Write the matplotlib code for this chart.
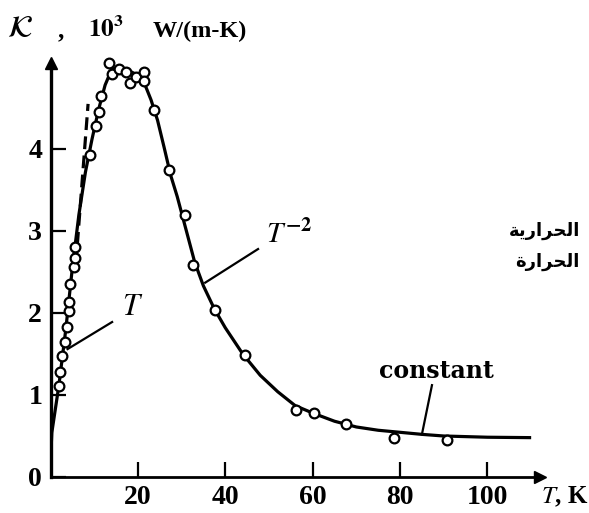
import numpy as np
import matplotlib
matplotlib.use("Agg")
import matplotlib.pyplot as plt

plt.rcParams["mathtext.fontset"] = "stix"
plt.rcParams["font.family"] = ["Liberation Serif", "DejaVu Serif"]

# -------------------------------
# data
# -------------------------------
# measured points (T in K, conductivity in 10^3 W/(m-K))
pts_T = [1.9, 2.2, 2.6, 3.3, 3.7, 4.2, 4.2, 4.5, 5.4, 5.6, 5.6, 9.0, 10.3, 11.0, 11.6,
         13.5, 14.1, 15.6, 17.3, 18.2, 19.6, 21.3, 21.4, 23.8, 27.1, 30.7, 32.7, 37.7,
         44.4, 56.2, 60.4, 67.7, 78.5, 90.8]
pts_K = [1.11, 1.28, 1.47, 1.65, 1.83, 2.03, 2.13, 2.35, 2.56, 2.67, 2.81, 3.93, 4.28, 4.45, 4.65,
         5.05, 4.92, 4.98, 4.94, 4.81, 4.88, 4.94, 4.83, 4.48, 3.74, 3.20, 2.59, 2.04,
         1.49, 0.82, 0.78, 0.65, 0.48, 0.45]

# smooth curve drawn through the points
curve_T = [0, 0.1, 0.3, 1.9, 3.5, 5.0, 6.5, 8.0, 9.5, 11.0, 12.5, 14.0, 15.5, 17.0, 18.5,
           20.0, 21.5, 23.0, 24.5, 26.0, 27.5, 29.0, 31.0, 33.0, 35.0, 37.5, 40.0, 44.0,
           48.0, 52.0, 56.0, 60.0, 65.0, 70.0, 75.0, 80.0, 85.0, 90.0, 100.0, 110.0]
curve_K = [0, 0.3, 0.54, 1.11, 1.8, 2.55, 3.2, 3.72, 4.12, 4.48, 4.78, 4.97, 5.0, 4.97, 4.94,
           4.9, 4.8, 4.6, 4.35, 4.02, 3.68, 3.42, 3.02, 2.62, 2.33, 2.05, 1.82, 1.5,
           1.24, 1.04, 0.87, 0.78, 0.68, 0.61, 0.57, 0.545, 0.52, 0.5, 0.485, 0.48]

# dashed linear (~T) segment
lin_T = [5.8, 8.6]
lin_K = [2.6, 4.55]

x_ticks = [20, 40, 60, 80, 100]
y_ticks = [0, 1, 2, 3, 4]

# leader lines (from curve to label)
lead_T = ([3.9, 14.1], [1.56, 1.89])
lead_T2 = ([35.4, 47.5], [2.37, 2.78])
lead_const = ([85.0, 87.3], [0.52, 1.12])

arabic_lines = ["الحرارية", "الحرارة"]


# matplotlib has no Arabic shaping: pick presentation forms and reverse
FORMS = {
    "ا": ("\uFE8D", "\uFE8E", None, None),
    "ل": ("\uFEDD", "\uFEDE", "\uFEDF", "\uFEE0"),
    "ح": ("\uFEA1", "\uFEA2", "\uFEA3", "\uFEA4"),
    "ر": ("\uFEAD", "\uFEAE", None, None),
    "ي": ("\uFEF1", "\uFEF2", "\uFEF3", "\uFEF4"),
    "ة": ("\uFE93", "\uFE94", None, None),
}


def shape(word):
    out = []
    for i, ch in enumerate(word):
        iso, fin, ini, med = FORMS[ch]
        prev = i > 0 and FORMS[word[i - 1]][2] is not None
        nxt = i < len(word) - 1 and ini is not None
        if prev and nxt:
            out.append(med)
        elif prev:
            out.append(fin)
        elif nxt:
            out.append(ini)
        else:
            out.append(iso)
    return "".join(reversed(out))


fig = plt.figure(figsize=(5.89, 5.13), dpi=100)
ax = fig.add_axes([50.5 / 589, 36 / 513, 489.4 / 589, 414.1 / 513])

ax.plot(curve_T, curve_K, color="k", lw=2.3, solid_capstyle="butt", zorder=2)
ax.plot(lin_T, lin_K, color="k", lw=2.3, dashes=(4, 2), zorder=2)
ax.plot(pts_T, pts_K, "o", ms=7, mfc="white", mec="k", mew=1.6, zorder=3, clip_on=False)

# leader lines
for lx, ly in (lead_T, lead_T2, lead_const):
    ax.plot(lx, ly, color="k", lw=1.6, zorder=2)

ax.text(18.9, 2.07, r"$T$", fontsize=22, ha="center", va="center")
ax.text(49.3, 2.95, r"$T^{\mathbf{-2}}$", fontsize=21, ha="left", va="center")
ax.text(88.3, 1.29, "constant", fontsize=17, fontweight="bold", family="DejaVu Serif",
        ha="center", va="center")

# axes
ax.set_xlim(0, 112)
ax.set_ylim(0, 5.05)
for s in ("top", "right"):
    ax.spines[s].set_visible(False)
ax.spines["left"].set_linewidth(2.4)
ax.spines["bottom"].set_linewidth(2.0)
ax.plot(1, 0, ">", color="k", ms=9, transform=ax.get_yaxis_transform(), clip_on=False)
ax.plot(0, 1, "^", color="k", ms=9, transform=ax.get_xaxis_transform(), clip_on=False)

ax.set_xticks(x_ticks)
ax.set_yticks(y_ticks)
ax.tick_params(direction="in", length=11, width=1.6, labelsize=20, pad=6)
for lab in ax.get_xticklabels() + ax.get_yticklabels():
    lab.set_fontweight("bold")

ax.text(112.3, -0.24, r"$T$, K", fontsize=18, fontweight="bold", ha="left", va="center",
        clip_on=False)

# y-axis title, pieces placed as in the picture
base = 1 - 37 / 513
fig.text(7 / 589, base, r"$\mathcal{K}$", fontsize=22, ha="left", va="baseline")
fig.text(58 / 589, base, ",", fontsize=18, fontweight="bold", ha="left", va="baseline")
fig.text(88 / 589, base, r"$\mathbf{10^3}$", fontsize=18, ha="left", va="baseline")
fig.text(153 / 589, base, "W/(m-K)", fontsize=17.5, fontweight="bold", ha="left",
         va="baseline")

for i, line in enumerate(arabic_lines):
    fig.text(580 / 589, 1 - (231 + 31 * i) / 513, shape(line), fontsize=13,
             fontweight="bold", family=["DejaVu Sans"], ha="right", va="center")

plt.savefig("out.png", dpi=100)
